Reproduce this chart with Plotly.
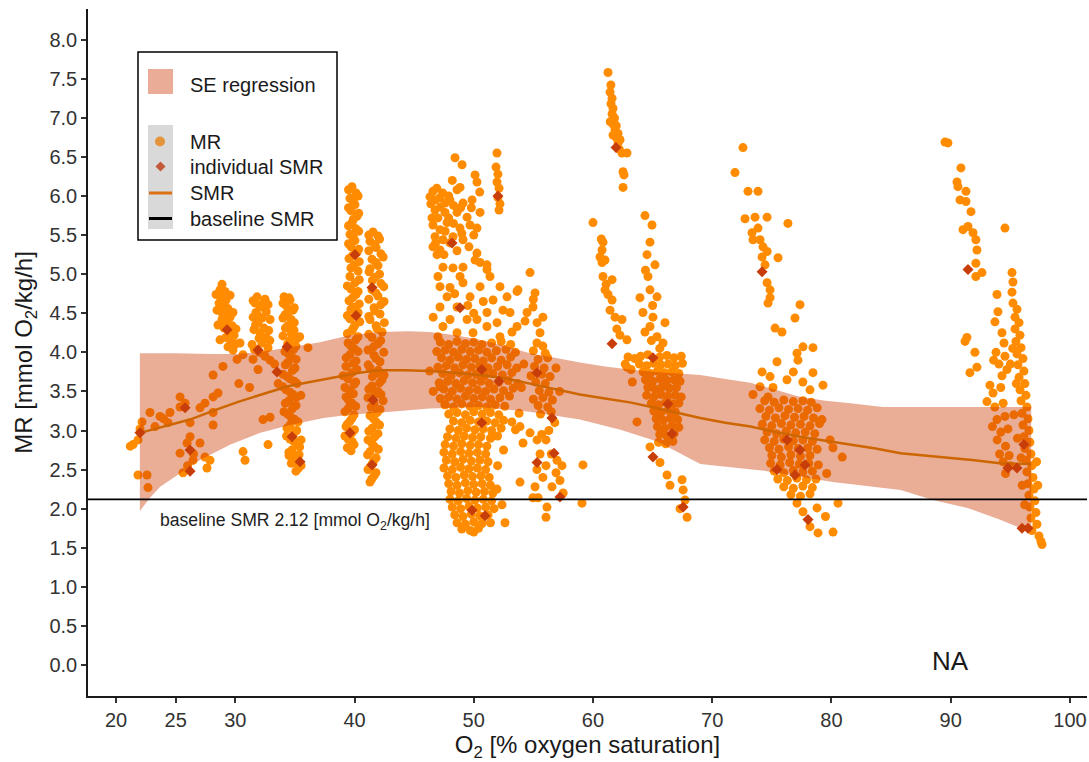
import plotly.graph_objects as go

# ---------------- data ----------------
# MR measurements, grouped by measurement burst: (O2 %, MR)
mr_22 = [(21.2,2.80),(21.43,2.82),(21.84,2.88),(22.18,3.11),(22.01,3.02),(22.85,3.23),(23.27,3.05),(23.69,3.18),
         (24.0,3.15),(24.36,3.10),(24.53,3.23),(25.37,3.30),(25.37,3.43),(25.79,3.35),(26.21,3.10),(27.04,3.29),
         (27.46,3.35),(28.14,3.43),(28.55,3.48),(28.14,3.23),(28.14,3.07),(28.14,3.71),(28.97,3.82),(30.15,3.91),
         (30.65,3.97),(31.49,3.91),(31.91,3.78),(30.3,3.60),(31.2,3.55),(32.33,3.14),(32.92,3.17),(32.75,2.82),
         (30.65,2.73),(30.82,2.62),(26.21,2.92),(25.96,2.84),(25.37,2.71),(26.46,2.62),(25.62,2.46),(26.0,2.55),
         (26.5,2.70),(27.04,2.84),(27.46,2.66),(27.63,2.52),(27.88,2.62),(21.84,2.43),(22.6,2.43),(22.68,2.27)]
mr_29 = [(28.89,4.87),(28.72,4.80),(29.14,4.78),(28.81,4.71),(29.23,4.67),(28.64,4.63),(29.06,4.60),(29.39,4.56),
         (28.81,4.52),(29.23,4.48),(29.56,4.45),(28.89,4.42),(29.31,4.38),(29.73,4.34),(29.06,4.31),(29.48,4.26),
         (29.9,4.22),(29.23,4.19),(29.64,4.15),(30.06,4.11),(29.39,4.07),(30.4,4.12),(29.81,4.03),(28.39,4.74),
         (29.56,4.73),(28.47,4.54),(29.81,4.51),(28.55,4.35),(30.06,4.30),(28.72,4.16)]
mr_32 = [(31.83,4.71),(31.66,4.63),(32.08,4.58),(31.74,4.51),(32.24,4.44),(31.91,4.38),(32.41,4.31),(32.08,4.25),
         (32.58,4.19),(32.24,4.12),(32.75,4.06),(32.41,3.97),(31.57,4.29),(32.92,4.42),(32.75,4.61),(31.41,4.10),
         (32.92,3.90),(31.5,4.45),(32.5,4.68),(32.0,4.00),(31.5,4.66),(32.3,4.62),(32.6,4.52),(31.9,4.47),
         (31.7,4.35),(32.8,4.28),(32.0,4.18),(31.6,4.04),(32.5,3.95),(32.9,4.15)]
mr_35 = [(34.09,4.71),(34.59,4.67),(34.26,4.60),(34.84,4.54),(34.17,4.48),(34.68,4.42),(34.42,4.34),(34.93,4.28),
         (34.0,4.21),(34.59,4.15),(35.09,4.08),(34.17,4.01),(34.76,3.94),(34.42,3.87),(35.01,3.80),(34.0,3.72),
         (34.59,3.66),(35.18,3.60),(34.26,3.52),(34.84,3.46),(34.51,3.38),(35.09,3.32),(34.09,3.24),(34.68,3.17),
         (35.26,3.11),(34.34,3.03),(34.93,2.97),(34.59,2.89),(35.18,2.83),(34.76,2.75),(35.35,2.69),(34.93,2.61),
         (35.52,2.55),(35.09,2.48),(34.51,2.68),(35.52,2.88),(36.1,4.06),(33.6,3.60),(33.3,3.85),(35.4,4.20),
         (35.5,3.45),
         (34.5,4.70),(34.0,4.63),(34.95,4.57),(34.4,4.51),(34.0,4.44),(34.95,4.38),(34.2,4.31),(34.7,4.24),
         (35.2,4.18),(34.4,4.11),(34.9,4.04),(34.45,3.98),(35.1,3.91),(34.2,3.84),(34.8,3.77),(34.35,3.69),
         (34.95,3.63),(34.0,3.56),(34.6,3.49),(35.1,3.42),(34.2,3.35),(34.8,3.28),(34.4,3.21),(35.0,3.14),
         (34.6,3.07),(35.15,3.00),(34.3,2.93),(34.9,2.86),(35.4,2.79),(34.5,2.72),(35.1,2.65),(34.7,2.58),
         (35.3,2.52)]
mr_40 = [(39.79,6.12),(40.13,6.04),(39.62,5.97),(40.04,5.89),(39.71,5.81),(40.21,5.74),(39.79,5.66),(40.13,5.58),
         (39.62,5.51),(40.04,5.43),(39.71,5.35),(40.21,5.28),(39.54,5.20),(39.96,5.12),(40.3,5.04),(39.62,4.97),
         (40.04,4.89),(39.71,4.81),(40.13,4.74),(39.54,4.66),(39.96,4.58),(40.3,4.51),(39.62,4.43),(40.04,4.35),
         (39.79,4.28),(40.3,4.20),(39.46,4.12),(39.96,4.05),(39.62,3.97),(40.13,3.89),(39.29,3.82),(39.79,3.74),
         (39.46,3.66),(39.96,3.59),(39.62,3.51),(39.29,3.43),(39.79,3.35),(39.46,3.28),(39.96,3.20),(39.62,3.12),
         (39.29,3.05),(39.79,2.97),(39.46,2.89),(39.96,2.82),(39.71,2.74),(39.04,3.70),
         (39.5,6.08),(40.3,6.00),(39.9,5.93),(39.5,5.85),(40.35,5.78),(39.9,5.70),(39.5,5.62),(40.35,5.55),
         (39.9,5.47),(39.5,5.39),(40.35,5.32),(39.85,5.24),(40.4,5.16),(39.7,5.08),(40.4,4.93),(39.4,4.85),
         (40.3,4.78),(39.85,4.70),(40.4,4.62),(39.7,4.55),(39.4,4.47),(40.45,4.39),(39.9,4.31),(39.4,4.24),
         (40.1,4.16),(39.7,4.08),(40.3,4.01),(39.3,3.93),(39.9,3.86),(40.2,3.78),(39.5,3.70),(40.1,3.62),
         (39.2,3.55),(39.9,3.47),(39.5,3.39),(40.1,3.31),(39.2,3.24),(39.8,3.16),(39.4,3.08),(40.0,3.01),
         (39.2,2.93),(39.8,2.86),(39.4,2.78)]
mr_42 = [(41.55,5.54),(41.97,5.49),(41.3,5.42),(41.81,5.34),(42.22,5.26),(41.47,5.19),(41.97,5.11),(41.22,5.03),
         (41.72,4.96),(42.22,4.88),(41.47,4.80),(41.97,4.72),(42.48,4.65),(41.64,4.57),(42.14,4.49),(41.3,4.42),
         (41.81,4.34),(42.31,4.26),(41.47,4.19),(41.97,4.11),(41.13,4.03),(41.64,3.96),(42.14,3.88),(41.3,3.80),
         (41.81,3.73),(42.31,3.65),(41.47,3.57),(41.97,3.50),(41.13,3.42),(41.64,3.34),(42.14,3.27),(41.3,3.19),
         (41.81,3.11),(41.47,3.03),(41.97,2.96),(41.13,2.88),(41.64,2.80),(41.3,2.73),(41.81,2.65),(41.47,2.57),
         (41.13,2.50),(41.64,2.42),(41.3,2.34),(42.22,3.46),(42.48,3.71),
         (41.2,5.50),(42.1,5.45),(41.7,5.38),(41.2,5.30),(42.4,5.22),(41.8,5.15),(41.3,5.07),(42.1,5.00),
         (41.5,4.92),(42.45,4.84),(41.8,4.76),(41.2,4.68),(42.2,4.61),(41.7,4.53),(41.2,4.46),(42.5,4.38),
         (41.9,4.30),(41.2,4.23),(42.2,4.15),(41.6,4.07),(42.45,4.00),(41.8,3.92),(41.15,3.84),(42.0,3.77),
         (41.5,3.69),(42.1,3.61),(41.2,3.53),(41.7,3.46),(42.4,3.38),(41.4,3.30),(41.9,3.23),(41.6,3.15),
         (42.1,3.07),(41.2,2.99),(41.7,2.92),(41.45,2.84),(42.0,2.76),(41.1,2.69),(41.6,2.61),(41.3,2.53),
         (41.8,2.46),(41.45,2.38)]
mr_48_high = [(51.95,6.55),(51.87,6.37),(52.03,6.28),(51.95,6.18),(52.12,6.10),(52.03,5.98),(52.2,5.90),(52.12,5.82),
              (48.43,6.49),(49.02,6.40),(50.11,6.27),(50.27,6.18),(48.85,6.11),(48.6,6.08),(46.58,6.06),(46.33,5.99),
              (47.17,5.98),(47.59,5.91),(49.1,5.91),(49.86,5.95),(46.75,5.82),(47.59,5.79),(48.6,5.79),(50.53,5.79),
              (49.44,5.73),(47.0,5.72),(46.58,5.63),(47.76,5.66),(49.69,5.63),(50.27,5.59),(47.17,5.57),(48.85,5.59),
              (46.75,5.48),(47.42,5.44),(49.1,5.44),(46.58,5.35),(47.17,5.31),(46.92,5.25),(48.26,5.48),(46.4,5.90),
              (47.9,6.00),(46.9,6.10),(47.4,6.04),(48.0,5.95),(46.8,5.95),(48.3,5.88),(47.2,5.86),(48.9,5.85),
              (47.9,5.72),(48.3,5.65),(46.5,5.72),(49.0,5.52),(47.6,5.55),(48.0,5.40),(46.8,5.40),(47.5,5.25),
              (48.6,5.30),(49.6,5.35),(50.0,5.50),(49.8,5.85),(48.2,6.20),(50.5,6.05)]
mr_48_mid = [(50.11,5.18),(50.53,5.15),(51.11,5.06),(51.36,4.97),(47.42,5.09),(48.26,5.08),(47.0,4.97),(48.85,4.97),
             (47.17,4.84),(48.01,4.83),(49.1,4.89),(47.76,4.71),(49.69,4.71),(52.2,4.84),(51.62,4.67),(51.11,4.51),
             (50.27,4.42),(52.45,4.54),(53.04,4.51),(48.6,4.58),(47.17,4.58),(48.01,4.42),(49.44,4.42),(47.42,4.33),
             (51.11,4.33),(51.95,4.38),(48.6,4.25),(49.94,4.25),(52.2,4.20),(52.79,4.71),(47.0,4.20),(50.53,4.84),
             (49.1,5.09),(50.27,5.27),(51.11,5.12),(49.5,4.60),(50.0,4.50),(48.4,4.75),(46.6,4.45),(50.8,4.65),
             (54.72,5.02),(53.71,4.80),(53.63,4.78),(55.14,4.76),(54.97,4.58),(54.47,4.51),(55.31,4.38),(55.56,4.25),
             (53.21,4.26),(53.63,4.33),(55.0,4.68),(55.8,4.45),(54.3,4.40)]
mr_50_core = [(47.2,4.13),(47.9,4.10),(48.6,4.14),(49.3,4.11),(50.0,4.13),(50.7,4.10),(51.5,4.12),(52.3,4.14),(53.1,4.10),(55.3,4.12),(55.8,4.08),
              (46.9,4.01),(47.6,4.03),(48.3,4.00),(49.0,4.04),(49.7,4.01),(50.4,4.03),(51.1,4.00),(51.9,4.02),(52.7,4.04),(53.5,4.00),(55.0,4.02),(56.0,3.99),
              (47.3,3.93),(48.0,3.90),(48.7,3.94),(49.4,3.91),(50.1,3.92),(50.8,3.89),(51.5,3.93),(52.3,3.90),(53.1,3.94),(55.4,3.91),(56.2,3.93),
              (47.0,3.81),(47.7,3.83),(48.4,3.80),(49.1,3.84),(49.8,3.81),(50.5,3.83),(51.2,3.80),(52.0,3.82),(52.8,3.84),(53.6,3.80),(55.1,3.82),(55.9,3.80),
              (47.4,3.73),(48.1,3.70),(48.8,3.74),(49.5,3.71),(50.2,3.72),(50.9,3.70),(51.6,3.73),(52.4,3.71),(53.2,3.74),(54.8,3.70),(55.7,3.72),(56.4,3.69),
              (47.1,3.61),(47.8,3.63),(48.5,3.60),(49.2,3.64),(49.9,3.61),(50.6,3.63),(51.3,3.60),(52.1,3.62),(52.9,3.64),(53.7,3.60),(55.2,3.62),(56.0,3.60),
              (47.5,3.53),(48.2,3.50),(48.9,3.54),(49.6,3.51),(50.3,3.52),(51.0,3.50),(51.7,3.53),(52.5,3.51),(53.3,3.54),(55.5,3.51),(56.3,3.49),
              (47.2,3.41),(47.9,3.43),(48.6,3.40),(49.3,3.44),(50.0,3.41),(50.7,3.43),(51.4,3.40),(52.2,3.42),(53.0,3.44),(55.0,3.40),(55.8,3.42),(56.6,3.39),
              (47.6,3.33),(48.3,3.30),(49.0,3.34),(49.7,3.31),(50.4,3.32),(51.1,3.30),(51.8,3.33),(52.6,3.31),(55.4,3.32),(56.2,3.30),
              (47.9,3.21),(48.6,3.23),(49.3,3.20),(50.0,3.24),(50.7,3.21),(51.4,3.23),(52.1,3.20),(53.8,3.22),(55.6,3.21),(56.5,3.24),
              (46.3,3.76),(46.6,3.50),(47.17,3.56),(47.59,3.33),(54.2,3.85),(54.0,3.55),(56.9,3.80),(57.2,3.50)]
mr_50_low = [(48.3,3.12),(49.0,3.10),(49.7,3.13),(50.4,3.11),(51.1,3.12),(51.8,3.10),(52.5,3.13),(53.2,3.11),
             (48.0,3.02),(48.7,3.00),(49.4,3.03),(50.1,3.01),(50.8,3.02),(51.5,3.00),(52.3,3.03),(53.5,3.01),
             (47.8,2.92),(48.5,2.90),(49.2,2.93),(49.9,2.91),(50.6,2.92),(51.4,2.90),(52.0,2.93),
             (47.6,2.82),(48.3,2.80),(49.0,2.83),(49.7,2.81),(50.4,2.82),(51.1,2.80),
             (47.5,2.72),(48.2,2.70),(48.9,2.73),(49.6,2.71),(50.3,2.72),(51.0,2.70),
             (47.7,2.62),(48.4,2.60),(49.1,2.63),(49.8,2.61),(50.5,2.62),(51.2,2.60),
             (47.5,2.52),(48.2,2.50),(48.9,2.53),(49.6,2.51),(50.3,2.52),(51.0,2.50),
             (47.8,2.42),(48.5,2.40),(49.2,2.43),(49.9,2.41),(50.6,2.42),(51.3,2.40),
             (47.9,2.32),(48.6,2.30),(49.3,2.33),(50.0,2.31),(50.7,2.32),(51.4,2.30),
             (48.1,2.22),(48.8,2.20),(49.5,2.23),(50.2,2.21),(50.9,2.22),(51.6,2.20),
             (48.0,2.12),(48.7,2.10),(49.4,2.13),(50.1,2.11),(50.8,2.12),(51.5,2.10),
             (48.2,2.02),(48.9,2.00),(49.6,2.03),(50.3,2.01),(51.0,2.02),(51.7,2.00),
             (48.4,1.92),(49.1,1.90),(49.8,1.93),(50.5,1.91),(51.2,1.92),
             (48.6,1.82),(49.3,1.80),(50.0,1.83),(50.7,1.81),(51.4,1.82),
             (49.0,1.74),(49.7,1.72),(50.4,1.75),
             (51.53,2.92),(51.95,2.25),(52.37,2.05),(52.62,1.82),(50.0,1.70),(52.0,2.55),(52.5,2.75)]
mr_56 = [(53.88,3.05),(54.72,2.97),(54.13,2.84),(55.31,2.88),(55.56,2.70),(56.06,2.88),(56.98,2.62),(56.06,2.55),
         (56.9,2.46),(53.88,2.34),(55.14,2.28),(55.4,2.14),(56.56,2.28),(57.23,2.36),(56.14,2.02),(56.06,1.89),
         (54.97,2.14),(55.8,2.40),(56.5,2.70),(57.4,2.55),(55.7,2.95),(56.3,3.00),(56.8,3.10),(57.5,2.20),(55.3,2.50)]
mr_62 = [(61.26,7.58),(61.43,7.33),(61.6,7.25),(61.51,7.18),(61.68,7.12),(61.6,7.05),(61.76,6.98),(61.68,6.92),
         (61.85,6.85),(61.68,6.78),(62.1,6.80),(62.27,6.72),(62.1,6.68),(62.43,6.55),(62.85,6.55),(62.52,6.31),
         (62.6,6.27),(62.52,6.11),(61.5,7.42),(61.8,7.00),(61.95,6.90),(61.45,6.95),(62.2,6.60),(61.95,6.75),
         (60.0,5.66),(60.84,5.41),(60.76,5.31),(60.59,5.22),(60.76,5.15),(61.01,5.18),(60.84,4.97),(61.6,4.93),
         (61.01,4.80),(61.26,4.74),(61.6,4.67),(61.43,4.54),(61.85,4.45),(62.43,4.42),(62.27,4.22),(62.85,4.16),
         (60.7,5.45),(61.1,4.87),(62.0,4.30)]
mr_66 = [(64.36,5.75),(64.95,5.63),(64.78,5.41),(64.53,5.25),(65.2,5.12),(64.61,4.97),(64.78,4.80),(63.94,4.70),
         (65.37,4.71),(64.19,4.51),(65.03,4.45),(64.78,4.33),(66.04,4.38),(64.36,4.26),(65.37,4.20),(65.87,4.12),
         (64.4,5.05),(65.0,4.60),(65.6,4.05),(64.9,4.15),
         (64.0,3.95),(64.6,3.97),(65.6,3.94),(66.2,3.96),(66.8,3.93),(67.4,3.95),
         (63.9,3.85),(64.5,3.83),(65.1,3.86),(65.7,3.84),(66.3,3.85),(66.9,3.83),(67.5,3.86),
         (64.2,3.75),(64.8,3.73),(65.4,3.76),(66.0,3.74),(66.6,3.75),(67.2,3.73),
         (64.4,3.65),(65.0,3.63),(65.6,3.66),(66.2,3.64),(66.8,3.65),(67.3,3.63),
         (64.6,3.55),(65.2,3.53),(65.8,3.56),(66.4,3.54),(67.0,3.55),
         (64.5,3.45),(65.1,3.43),(65.7,3.46),(66.3,3.44),(66.9,3.45),(67.4,3.43),
         (64.9,3.35),(65.5,3.33),(66.1,3.36),(66.7,3.34),(67.2,3.35),
         (65.1,3.25),(65.7,3.23),(66.3,3.26),(66.9,3.24),
         (65.3,3.15),(65.9,3.13),(66.5,3.16),(67.1,3.14),
         (65.4,3.05),(66.0,3.03),(66.6,3.06),(67.2,3.04),
         (65.6,2.95),(66.2,2.93),(66.8,2.96),
         (65.5,2.85),(66.1,2.83),(66.7,2.86),
         (63.69,3.11),(64.78,2.79),(65.62,2.59),(66.21,2.43),(66.46,2.30),(67.47,2.37),(67.56,2.24),(67.72,2.11),
         (67.89,1.89),(67.3,2.00),(62.94,3.94),(62.85,3.81),(62.7,3.85),(63.2,3.78),(63.5,3.92),(63.3,3.62),
         (59.16,2.56),(59.08,2.07)]
mr_76 = [(72.58,6.62),(71.91,6.30),(73.0,6.06),(73.84,6.06),(72.75,5.71),(73.59,5.73),(74.6,5.73),(76.35,5.65),
         (73.34,5.53),(73.84,5.59),(74.01,5.44),(73.42,5.44),(74.26,5.35),(74.6,5.29),(74.18,5.22),(75.52,5.21),
         (74.43,5.12),(74.6,4.89),(74.85,4.80),(74.68,4.63),(74.85,4.70),(77.36,4.61),(76.94,4.44),(75.27,4.31),
         (75.85,4.26),(77.61,4.07),(78.45,4.06),(77.11,3.99),(75.43,3.88),(77.19,3.90),(74.18,3.75),(74.85,3.69),
         (78.45,3.74),(76.27,3.65),(79.29,3.58),(74.01,3.56),(78.2,3.52),(73.42,3.46),(74.68,3.43),(76.8,3.75),
         (77.6,3.62),(75.1,3.55),
         (74.4,3.38),(75.2,3.36),(76.0,3.39),(76.8,3.37),(77.6,3.38),(78.3,3.36),
         (74.0,3.28),(74.8,3.26),(75.6,3.29),(76.4,3.27),(77.2,3.28),(78.0,3.26),(78.8,3.29),
         (74.5,3.18),(75.3,3.16),(76.1,3.19),(76.9,3.17),(77.7,3.18),(78.5,3.16),
         (74.2,3.08),(75.0,3.06),(75.8,3.09),(76.6,3.07),(77.4,3.08),(78.2,3.06),(79.0,3.09),
         (74.6,2.98),(75.4,2.96),(76.2,2.99),(77.0,2.97),(77.8,2.98),(78.6,2.96),
         (74.4,2.88),(75.2,2.86),(76.0,2.89),(76.8,2.87),(77.6,2.88),(78.4,2.86),
         (74.8,2.78),(75.6,2.76),(76.4,2.79),(77.2,2.77),(78.0,2.78),(78.8,2.76),
         (75.0,2.68),(75.8,2.66),(76.6,2.69),(77.4,2.67),(78.2,2.68),
         (74.9,2.58),(75.7,2.56),(76.5,2.59),(77.3,2.57),(78.1,2.58),(78.9,2.56),
         (75.2,2.48),(76.0,2.46),(76.8,2.49),(77.6,2.47),(78.4,2.48),
         (75.5,2.38),(76.3,2.36),(77.1,2.39),(77.9,2.37),(78.7,2.38),
         (76.0,2.28),(76.8,2.26),(77.6,2.29),(78.4,2.27),
         (76.6,2.18),(77.4,2.16),(78.2,2.19),
         (77.11,2.07),(77.61,1.96),(78.79,2.01),(78.2,1.77),(78.87,1.69),(80.13,1.70),(80.55,2.07),(79.5,1.90),
         (79.2,3.14),(79.88,2.88),(80.13,2.78),(80.9,2.66),(79.6,2.45)]
mr_91 = [(89.52,6.69),(89.77,6.68),(90.86,6.36),(90.53,6.18),(90.61,6.12),(91.28,6.06),(90.78,5.95),(91.28,5.93),
         (91.7,5.80),(91.03,5.57),(91.45,5.61),(91.87,5.53),(92.11,5.44),(92.2,5.31),(92.11,5.14),(92.62,5.02),
         (92.11,4.97),(94.55,5.59),(91.36,4.19),(91.2,4.14),(92.03,4.00),(92.2,3.81),(91.61,3.74)]
mr_96 = [(95.14,5.02),(95.22,4.90),(95.14,4.77),(95.22,4.63),(95.56,4.55),(95.39,4.45),(95.73,4.38),(95.39,4.30),
         (95.81,4.22),(95.47,4.14),(95.9,4.06),(95.56,3.98),(96.06,3.92),(95.64,3.84),(96.14,3.76),(95.73,3.68),
         (96.22,3.60),(95.81,3.52),(96.31,3.45),(95.9,3.38),(96.39,3.30),(95.98,3.22),(96.48,3.15),(96.06,3.07),
         (96.56,3.00),(96.14,2.92),(96.64,2.85),(96.22,2.77),(96.73,2.70),(96.31,2.62),(96.81,2.55),(96.39,2.47),
         (96.9,2.40),(96.48,2.32),(96.98,2.25),(96.56,2.17),(97.06,2.10),(96.64,2.02),(97.15,1.95),(96.73,1.88),
         (97.23,1.80),(96.81,1.72),(97.4,1.65),(97.57,1.58),(97.66,1.54),(97.3,2.30),(97.2,2.60),(95.5,3.60),
         (95.3,3.20),(95.6,2.90),(95.9,2.65),(96.0,2.30),(96.2,2.05),(95.2,4.05),(95.0,3.85),
         (93.88,4.74),(93.96,4.52),(93.71,4.39),(94.3,4.25),(94.47,4.12),(93.8,4.00),(94.55,3.95),(94.05,3.85),
         (94.72,3.78),(93.29,3.58),(93.55,3.48),(94.2,3.55),(93.04,3.37),(93.7,3.30),(94.4,3.35),(93.88,3.14),
         (94.55,3.18),(93.5,3.05),(94.2,2.98),(94.8,3.02),(93.9,2.88),(94.6,2.80),(94.1,2.70),(94.9,2.68),
         (94.4,2.60),(95.0,2.55),(94.6,2.45),(94.3,3.70),(93.6,3.90)]

# individual SMR estimates (O2 %, SMR)
smr_individual = [(22.01,2.97),(25.79,3.29),(26.21,2.75),(26.21,2.48),(29.31,4.29),(31.91,4.03),(33.5,3.75),
                  (34.34,4.07),(34.76,2.92),(35.43,2.60),(40.04,5.25),(40.13,4.47),(39.62,2.97),(41.47,4.83),
                  (41.55,3.39),(41.47,2.56),(52.03,6.00),(48.18,5.40),(48.85,4.57),(50.67,3.78),(52.12,3.63),
                  (55.31,3.74),(56.56,3.16),(50.67,3.10),(49.86,1.98),(50.95,1.91),(55.31,2.59),(56.73,2.71),
                  (57.23,2.15),(61.93,6.62),(61.6,4.11),(65.03,3.93),(66.29,3.34),(66.63,2.96),(65.03,2.66),
                  (67.56,2.02),(74.18,5.03),(76.27,2.88),(77.36,2.75),(77.78,2.56),(75.43,2.50),(76.94,2.43),
                  (78.03,1.86),(91.45,5.06),(96.14,2.82),(94.8,2.52),(95.56,2.52),(95.98,1.75),(96.48,1.75)]

# SMR regression curve
smr_x = [22.0, 24.0, 26.2, 28.3, 30.3, 32.4, 34.5, 36.6, 38.7, 40.4, 42.1, 44.2, 46.3, 48.4, 50.5, 52.6, 54.7,
         56.8, 58.9, 61.0, 63.1, 65.2, 67.3, 69.0, 71.1, 73.2, 75.3, 77.4, 79.5, 81.6, 83.7, 85.8, 87.9, 89.9,
         92.0, 94.1, 96.75]
smr_y = [2.97, 3.05, 3.14, 3.26, 3.37, 3.47, 3.57, 3.63, 3.69, 3.74, 3.77, 3.77, 3.76, 3.74, 3.71, 3.67, 3.60,
         3.53, 3.46, 3.41, 3.36, 3.29, 3.22, 3.16, 3.10, 3.05, 2.98, 2.92, 2.87, 2.82, 2.77, 2.71, 2.68, 2.65,
         2.62, 2.58, 2.57]

# SE band of the regression
band_up_x = [22.0, 25.0, 28.0, 30.0, 32.0, 34.0, 36.0, 37.1, 39.6, 42.1, 44.5, 46.3, 48.5, 50.5, 52.6, 54.7,
             56.8, 58.9, 61.0, 63.1, 65.2, 67.3, 69.0, 71.1, 73.2, 75.3, 77.4, 79.5, 81.6, 84.3, 88.0, 92.0, 96.75]
band_up_y = [3.99, 3.99, 3.98, 3.98, 4.00, 4.05, 4.10, 4.13, 4.22, 4.26, 4.27, 4.26, 4.22, 4.16, 4.08, 3.99,
             3.93, 3.87, 3.82, 3.78, 3.75, 3.73, 3.71, 3.66, 3.61, 3.52, 3.43, 3.38, 3.35, 3.30, 3.30, 3.30, 3.30]
band_lo_x = [22.0, 22.85, 23.7, 24.5, 25.4, 27.0, 29.6, 32.1, 34.6, 37.4, 39.6, 43.0, 46.3, 50.5, 54.7, 58.9,
             62.3, 65.4, 69.0, 74.6, 80.1, 85.8, 88.5, 91.4, 94.1, 96.75]
band_lo_y = [1.97, 2.14, 2.28, 2.37, 2.46, 2.62, 2.82, 2.97, 3.07, 3.16, 3.20, 3.24, 3.28, 3.30, 3.24, 3.14,
             3.01, 2.86, 2.57, 2.48, 2.34, 2.24, 2.11, 2.01, 1.86, 1.70]

baseline_smr = 2.12
x_ticks = [20, 25, 30, 40, 50, 60, 70, 80, 90, 100]
x_range = [17.65, 101.43]
y_range = [-0.397, 8.393]
na_label_pos = (90, 0.05)

# ---------------- figure ----------------
W, H = 1089, 762
ML, MRG, MT, MB = 88, 2, 9, 66
PW, PH = W - ML - MRG, H - MT - MB
FONT = "Liberation Sans, Arial, sans-serif"


def pp(px, py):
    """pixel position in the page -> paper coordinates"""
    return (px - ML) / PW, (H - MB - py) / PH


mr_all = mr_22 + mr_29 + mr_32 + mr_35 + mr_40 + mr_42 + mr_48_high + mr_48_mid + mr_50_core + mr_50_low \
    + mr_56 + mr_62 + mr_66 + mr_76 + mr_91 + mr_96

C_MR = "rgb(255,140,0)"
C_BAND = "rgba(205,55,0,0.41)"
C_SMR = "rgb(205,102,0)"
C_IND = "rgb(200,62,10)"

fig = go.Figure()
fig.add_trace(go.Scatter(x=[p[0] for p in mr_all], y=[p[1] for p in mr_all], mode="markers", name="MR",
                         marker=dict(color=C_MR, size=9, line=dict(width=0)), showlegend=False))
fig.add_trace(go.Scatter(x=band_up_x + band_lo_x[::-1], y=band_up_y + band_lo_y[::-1], mode="lines",
                         fill="toself", fillcolor=C_BAND, line=dict(width=0), name="SE regression",
                         showlegend=False, hoverinfo="skip"))
fig.add_trace(go.Scatter(x=smr_x, y=smr_y, mode="lines", name="SMR", line=dict(color=C_SMR, width=2.5),
                         showlegend=False))
fig.add_trace(go.Scatter(x=[p[0] for p in smr_individual], y=[p[1] for p in smr_individual], mode="markers",
                         name="individual SMR", marker=dict(symbol="diamond", color=C_IND, size=8.5,
                                                            line=dict(width=0)), showlegend=False))
fig.add_trace(go.Scatter(x=x_range, y=[baseline_smr, baseline_smr], mode="lines", name="baseline SMR",
                         line=dict(color="black", width=1.8), showlegend=False))

# ---- legend (drawn as a ggplot-style key box) ----
shapes = []
x0, y0 = pp(138, 52)
x1, y1 = pp(337, 240)
shapes.append(dict(type="rect", xref="paper", yref="paper", x0=x0, y0=y1, x1=x1, y1=y0,
                   line=dict(color="black", width=1.5), fillcolor="white", layer="above"))
a0, b0 = pp(148, 69)
a1, b1 = pp(173, 94)
shapes.append(dict(type="rect", xref="paper", yref="paper", x0=a0, y0=b1, x1=a1, y1=b0,
                   line=dict(width=0), fillcolor="rgb(234,172,150)", layer="above"))
a0, b0 = pp(148, 125)
a1, b1 = pp(173, 229)
shapes.append(dict(type="rect", xref="paper", yref="paper", x0=a0, y0=b1, x1=a1, y1=b0,
                   line=dict(width=0), fillcolor="rgb(217,217,217)", layer="above"))
a0, b0 = pp(155, 136.5)
a1, b1 = pp(165, 146.5)
shapes.append(dict(type="circle", xref="paper", yref="paper", x0=a0, y0=b1, x1=a1, y1=b0,
                   line=dict(width=0), fillcolor="rgb(228,148,58)", layer="above"))
pts = [pp(160.5, 161.5), pp(165.5, 166.5), pp(160.5, 171.5), pp(155.5, 166.5)]
path = "M " + " L ".join(f"{px:.5f},{py:.5f}" for px, py in pts) + " Z"
shapes.append(dict(type="path", xref="paper", yref="paper", path=path, line=dict(width=0),
                   fillcolor="rgb(196,88,58)", layer="above"))
a0, b0 = pp(149, 193)
a1, _ = pp(172, 193)
shapes.append(dict(type="line", xref="paper", yref="paper", x0=a0, y0=b0, x1=a1, y1=b0,
                   line=dict(color="rgb(220,112,20)", width=3), layer="above"))
a0, b0 = pp(149, 218.5)
a1, _ = pp(172, 218.5)
shapes.append(dict(type="line", xref="paper", yref="paper", x0=a0, y0=b0, x1=a1, y1=b0,
                   line=dict(color="black", width=3), layer="above"))

annotations = []
for label, yc in [("SE regression", 85), ("MR", 141.5), ("individual SMR", 166.5), ("SMR", 193),
                  ("baseline SMR", 218.5)]:
    ax, ay = pp(188, yc)
    annotations.append(dict(text=label, x=ax, y=ay, xref="paper", yref="paper", xanchor="left",
                            yanchor="middle", showarrow=False, font=dict(family=FONT, size=20, color="#1a1a1a")))

annotations.append(dict(text="baseline SMR 2.12 [mmol O<sub>2</sub>/kg/h]", x=23.55, y=baseline_smr - 0.29,
                        xref="x", yref="y", xanchor="left", yanchor="middle", showarrow=False,
                        font=dict(family=FONT, size=17.6, color="#222222")))
annotations.append(dict(text="NA", x=na_label_pos[0], y=na_label_pos[1], xref="x", yref="y",
                        xanchor="center", yanchor="middle", showarrow=False,
                        font=dict(family=FONT, size=26, color="#1a1a1a")))

fig.update_layout(
    width=W, height=H,
    margin=dict(l=ML, r=MRG, t=MT, b=MB),
    paper_bgcolor="white", plot_bgcolor="white",
    showlegend=False,
    shapes=shapes, annotations=annotations,
    font=dict(family=FONT, color="#1a1a1a"),
    xaxis=dict(range=x_range, tickvals=x_ticks, ticks="outside", ticklen=5, tickwidth=1.5,
               tickcolor="#333333", showline=True, linecolor="#1a1a1a", linewidth=1.6, showgrid=False,
               zeroline=False, tickfont=dict(family=FONT, size=20, color="#333333"),
               title=dict(text="O<sub>2</sub> [% oxygen saturation]", standoff=6,
                          font=dict(family=FONT, size=24, color="#1a1a1a"))),
    yaxis=dict(range=y_range, tick0=0, dtick=0.5, tickformat=".1f", ticks="outside", ticklen=5,
               tickwidth=1.5, tickcolor="#333333", showline=True, linecolor="#1a1a1a", linewidth=1.6,
               showgrid=False, zeroline=False, tickfont=dict(family=FONT, size=20, color="#333333"),
               title=dict(text="MR [mmol O<sub>2</sub>/kg/h]", standoff=10,
                          font=dict(family=FONT, size=24, color="#1a1a1a"))),
)

fig.write_html("out.html")
